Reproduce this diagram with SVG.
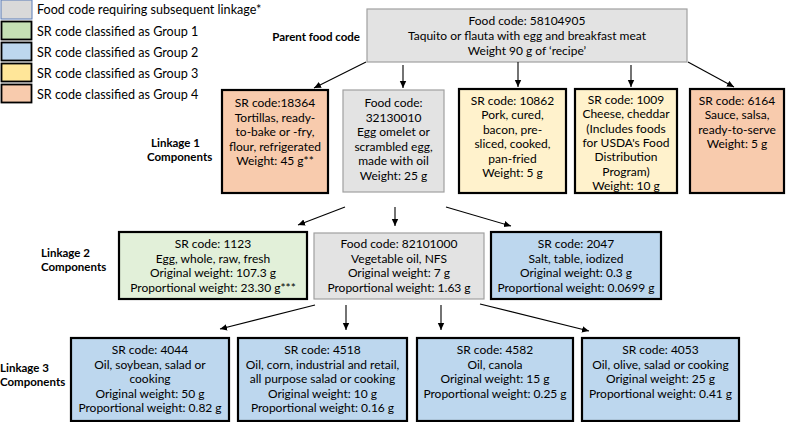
<svg xmlns="http://www.w3.org/2000/svg" width="786" height="422" viewBox="0 0 786 422">
<defs>
<marker id="ah" markerWidth="8" markerHeight="8" refX="7" refY="4" orient="auto" markerUnits="userSpaceOnUse">
<path d="M0,0.8 L7,4 L0,7.2 Z" fill="#000"/>
</marker>
<style>
text{font-family:Lato,"Liberation Sans",sans-serif;font-size:12px;fill:#000}
.c{text-anchor:middle}
.lg{font-size:12.6px}
.b{font-weight:bold;font-size:11.5px}
.gray{fill:#E3E3E3;stroke:#A0A0A0;stroke-width:1.2}
.g4{fill:#F8CBAD;stroke:#000;stroke-width:2.2}
.g3{fill:#FFF2CC;stroke:#000;stroke-width:2.2}
.g1{fill:#E2F0D9;stroke:#000;stroke-width:2.2}
.g2{fill:#BDD7EE;stroke:#000;stroke-width:2.2}
.conn line{stroke:#000;stroke-width:1.1;marker-end:url(#ah)}
</style>
</defs>
<rect width="786" height="422" fill="#fff"/>

<g id="legend">
<rect x="1" y="0" width="31" height="19" fill="#D9D9D9" stroke="#5B7DB8" stroke-width="1"/>
<rect x="1.5" y="21.5" width="30" height="18" fill="#C5E0B4" stroke="#000" stroke-width="1.8"/>
<rect x="1.5" y="42.5" width="30" height="18" fill="#BDD7EE" stroke="#000" stroke-width="1.8"/>
<rect x="1.5" y="63.5" width="30" height="18" fill="#FFE699" stroke="#000" stroke-width="1.8"/>
<rect x="1.5" y="84.5" width="30" height="18" fill="#F8CBAD" stroke="#000" stroke-width="1.8"/>
<text class="lg" x="37" y="14">Food code requiring subsequent linkage*</text>
<text class="lg" x="37" y="36">SR code classified as Group 1</text>
<text class="lg" x="37" y="57">SR code classified as Group 2</text>
<text class="lg" x="37" y="78">SR code classified as Group 3</text>
<text class="lg" x="37" y="99">SR code classified as Group 4</text>
</g>

<g id="row-labels">
<text class="b" x="360" y="41" text-anchor="end">Parent food code</text>
<text class="b" x="151" y="147">Linkage 1</text>
<text class="b" x="147" y="161">Components</text>
<text class="b" x="41" y="257">Linkage 2</text>
<text class="b" x="41" y="271">Components</text>
<text class="b" x="0" y="372">Linkage 3</text>
<text class="b" x="0" y="386">Components</text>
</g>

<g id="parent">
<rect class="gray" x="367" y="9" width="320" height="53"/>
<text class="c" x="527" y="25">Food code: 58104905</text>
<text class="c" x="527" y="39.5">Taquito or flauta with egg and breakfast meat</text>
<text class="c" x="527" y="54.5">Weight 90 g of ‘recipe’</text>
</g>

<g id="sr18364">
<rect class="g4" x="222" y="90" width="106" height="103"/>
<text class="c" x="275" y="107">SR code:18364</text>
<text class="c" x="275" y="121.5">Tortillas, ready-</text>
<text class="c" x="275" y="136">to-bake or -fry,</text>
<text class="c" x="275" y="150.5">flour, refrigerated</text>
<text class="c" x="275" y="165">Weight: 45 g**</text>
</g>

<g id="fc32130010">
<rect class="gray" x="343" y="90" width="101" height="102"/>
<text class="c" x="393.5" y="107">Food code:</text>
<text class="c" x="393.5" y="121.5">32130010</text>
<text class="c" x="393.5" y="136">Egg omelet or</text>
<text class="c" x="393.5" y="150.5">scrambled egg,</text>
<text class="c" x="393.5" y="165">made with oil</text>
<text class="c" x="393.5" y="179.5">Weight: 25 g</text>
</g>

<g id="sr10862">
<rect class="g3" x="459" y="89" width="107" height="104"/>
<text class="c" x="512.5" y="104.5">SR code: 10862</text>
<text class="c" x="512.5" y="119">Pork, cured,</text>
<text class="c" x="512.5" y="133.5">bacon, pre-</text>
<text class="c" x="512.5" y="148">sliced, cooked,</text>
<text class="c" x="512.5" y="162.5">pan-fried</text>
<text class="c" x="512.5" y="177">Weight: 5 g</text>
</g>

<g id="sr1009">
<rect class="g3" x="575" y="89" width="102" height="104"/>
<text class="c" x="626" y="104">SR code: 1009</text>
<text class="c" x="626" y="118.3">Cheese, cheddar</text>
<text class="c" x="626" y="132.6">(Includes foods</text>
<text class="c" x="626" y="146.9">for USDA's Food</text>
<text class="c" x="626" y="161.2">Distribution</text>
<text class="c" x="626" y="175.5">Program)</text>
<text class="c" x="626" y="189.8">Weight: 10 g</text>
</g>

<g id="sr6164">
<rect class="g4" x="690" y="89" width="94" height="104"/>
<text class="c" x="737" y="104.5">SR code: 6164</text>
<text class="c" x="737" y="119">Sauce, salsa,</text>
<text class="c" x="737" y="133.5">ready-to-serve</text>
<text class="c" x="737" y="148">Weight: 5 g</text>
</g>

<g id="sr1123">
<rect class="g1" x="119" y="232" width="188" height="67"/>
<text class="c" x="213" y="248">SR code: 1123</text>
<text class="c" x="213" y="262.5">Egg, whole, raw, fresh</text>
<text class="c" x="213" y="277">Original weight: 107.3 g</text>
<text class="c" x="213" y="291.5">Proportional weight: 23.30 g***</text>
</g>

<g id="fc82101000">
<rect class="gray" x="314" y="233" width="170" height="66"/>
<text class="c" x="399" y="248">Food code: 82101000</text>
<text class="c" x="399" y="262.5">Vegetable oil, NFS</text>
<text class="c" x="399" y="277">Original weight: 7 g</text>
<text class="c" x="399" y="291.5">Proportional weight: 1.63 g</text>
</g>

<g id="sr2047">
<rect class="g2" x="491" y="232" width="170" height="67"/>
<text class="c" x="576" y="248">SR code: 2047</text>
<text class="c" x="576" y="262.5">Salt, table, iodized</text>
<text class="c" x="576" y="277">Original weight: 0.3 g</text>
<text class="c" x="576" y="291.5">Proportional weight: 0.0699 g</text>
</g>

<g id="sr4044">
<rect class="g2" x="71" y="338" width="158" height="83"/>
<text class="c" x="150" y="354">SR code: 4044</text>
<text class="c" x="150" y="368.5">Oil, soybean, salad or</text>
<text class="c" x="150" y="383">cooking</text>
<text class="c" x="150" y="397.5">Original weight: 50 g</text>
<text class="c" x="150" y="412">Proportional weight: 0.82 g</text>
</g>

<g id="sr4518">
<rect class="g2" x="238" y="338" width="169" height="83"/>
<text class="c" x="322.5" y="354">SR code: 4518</text>
<text class="c" x="322.5" y="368.5">Oil, corn, industrial and retail,</text>
<text class="c" x="322.5" y="383">all purpose salad or cooking</text>
<text class="c" x="322.5" y="397.5">Original weight: 10 g</text>
<text class="c" x="322.5" y="412">Proportional weight: 0.16 g</text>
</g>

<g id="sr4582">
<rect class="g2" x="417" y="338" width="156" height="83"/>
<text class="c" x="495" y="354">SR code: 4582</text>
<text class="c" x="495" y="368.5">Oil, canola</text>
<text class="c" x="495" y="383">Original weight: 15 g</text>
<text class="c" x="495" y="397.5">Proportional weight: 0.25 g</text>
</g>

<g id="sr4053">
<rect class="g2" x="582" y="338" width="157" height="83"/>
<text class="c" x="660.5" y="354">SR code: 4053</text>
<text class="c" x="660.5" y="368.5">Oil, olive, salad or cooking</text>
<text class="c" x="660.5" y="383">Original weight: 25 g</text>
<text class="c" x="660.5" y="397.5">Proportional weight: 0.41 g</text>
</g>

<g id="connectors" class="conn">
<line x1="366" y1="62" x2="314" y2="88"/>
<line x1="403" y1="65" x2="403" y2="88"/>
<line x1="518" y1="62" x2="518" y2="87"/>
<line x1="631" y1="65" x2="631" y2="87"/>
<line x1="688" y1="62" x2="734" y2="87"/>
<line x1="345" y1="207" x2="298" y2="225"/>
<line x1="395" y1="207" x2="395" y2="226"/>
<line x1="446" y1="207" x2="511" y2="226"/>
<line x1="315" y1="305" x2="220" y2="329"/>
<line x1="346" y1="305" x2="346" y2="330"/>
<line x1="441" y1="305" x2="441" y2="330"/>
<line x1="480" y1="304" x2="589" y2="331"/>
</g>
</svg>
